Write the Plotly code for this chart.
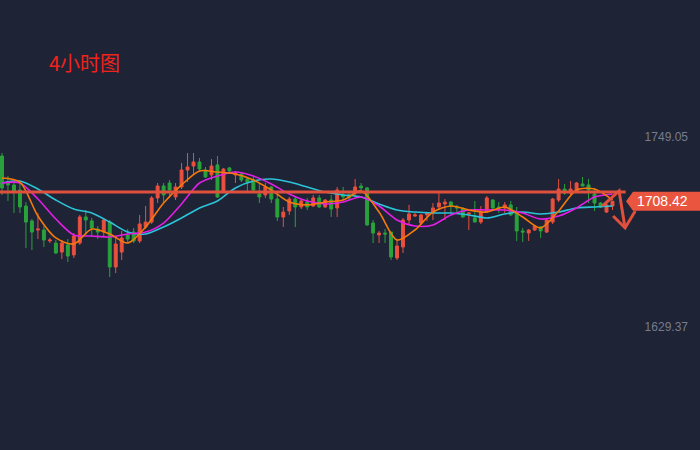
import plotly.graph_objects as go

# ---------------- data ----------------
candle_idx = list(range(103))

opens = [1736.9, 1720.5, 1718.7, 1715.5, 1705.4, 1696.0, 1690.3, 1690.3, 1683.4, 1682.1,
         1676.4, 1680.9, 1674.6, 1682.1, 1698.5, 1696.0, 1690.9, 1689.0, 1695.3, 1667.0,
         1676.4, 1687.2, 1689.0, 1683.4, 1692.2, 1695.3, 1710.5, 1718.0, 1719.9, 1711.1,
         1717.4, 1728.1, 1730.6, 1733.1, 1728.1, 1725.0, 1731.3, 1714.2, 1729.4, 1725.0,
         1725.6, 1722.4, 1721.8, 1713.0, 1712.4, 1717.4, 1709.8, 1698.5, 1702.3, 1709.8,
         1704.8, 1707.9, 1705.4, 1710.5, 1704.8, 1709.2, 1704.2, 1712.4, 1712.4, 1713.6,
         1718.0, 1716.8, 1694.7, 1687.2, 1688.4, 1689.0, 1672.7, 1679.6, 1696.6, 1699.1,
         1694.7, 1699.8, 1701.0, 1704.8, 1706.7, 1707.9, 1704.8, 1703.5, 1700.4, 1697.9,
         1695.3, 1701.6, 1709.2, 1704.8, 1704.2, 1706.1, 1701.6, 1689.7, 1688.4, 1690.3,
         1692.2, 1689.0, 1695.3, 1709.2, 1716.1, 1713.6, 1714.2, 1719.3, 1718.7, 1713.0,
         1707.3, 1701.6, 1705.4]

highs = [1738.8, 1724.3, 1720.5, 1719.9, 1707.9, 1697.2, 1701.0, 1692.8, 1685.3, 1684.0,
         1684.0, 1684.6, 1688.4, 1699.8, 1702.9, 1697.9, 1692.8, 1697.9, 1696.6, 1686.5,
         1689.7, 1690.9, 1691.6, 1699.8, 1705.4, 1711.7, 1719.9, 1719.9, 1721.8, 1719.9,
         1732.5, 1738.8, 1738.8, 1735.7, 1730.0, 1735.0, 1736.9, 1729.4, 1730.0, 1727.5,
         1726.8, 1723.7, 1723.7, 1719.9, 1719.9, 1718.0, 1712.4, 1704.8, 1711.1, 1711.7,
         1709.8, 1710.5, 1712.4, 1712.4, 1709.8, 1712.4, 1717.4, 1717.4, 1713.6, 1722.4,
         1719.9, 1717.4, 1696.6, 1689.7, 1690.9, 1689.0, 1684.6, 1697.9, 1706.1, 1701.0,
         1700.4, 1701.6, 1707.3, 1713.6, 1709.8, 1708.6, 1706.1, 1704.8, 1701.6, 1708.6,
         1705.4, 1711.7, 1709.8, 1707.9, 1707.9, 1708.6, 1704.8, 1691.6, 1690.9, 1693.5,
         1692.8, 1697.9, 1710.5, 1722.4, 1719.3, 1721.2, 1720.5, 1723.7, 1722.4, 1716.8,
         1707.9, 1706.7, 1708.6]

lows = [1712.4, 1708.6, 1701.0, 1701.0, 1679.0, 1677.7, 1684.6, 1679.6, 1682.1, 1675.2,
        1672.0, 1670.1, 1672.7, 1680.9, 1687.2, 1685.9, 1684.6, 1685.9, 1660.7, 1663.2,
        1671.4, 1682.1, 1682.1, 1682.1, 1690.9, 1694.1, 1707.3, 1707.9, 1710.5, 1709.2,
        1716.1, 1720.5, 1725.6, 1726.8, 1723.1, 1721.8, 1710.5, 1713.6, 1725.6, 1719.9,
        1720.5, 1714.2, 1714.2, 1707.3, 1710.5, 1707.3, 1696.0, 1692.2, 1699.8, 1692.2,
        1703.5, 1702.9, 1704.8, 1704.2, 1704.2, 1698.5, 1698.5, 1709.2, 1709.2, 1711.1,
        1715.5, 1692.8, 1682.1, 1682.1, 1682.1, 1671.4, 1671.4, 1675.8, 1693.5, 1698.5,
        1693.5, 1696.0, 1696.6, 1702.9, 1696.6, 1701.6, 1701.0, 1697.9, 1690.3, 1695.3,
        1694.1, 1701.0, 1703.5, 1701.0, 1701.0, 1699.1, 1683.4, 1682.7, 1683.4, 1689.7,
        1685.3, 1688.4, 1694.1, 1707.9, 1712.4, 1712.4, 1713.6, 1718.0, 1707.3, 1702.3,
        1704.2, 1701.0, 1702.9]

closes = [1716.8, 1718.7, 1714.9, 1704.8, 1695.3, 1689.0, 1690.9, 1684.0, 1684.0, 1675.8,
          1682.1, 1673.9, 1686.5, 1698.5, 1696.6, 1691.6, 1689.0, 1696.6, 1667.0, 1681.5,
          1685.3, 1684.6, 1683.4, 1694.1, 1695.3, 1710.5, 1718.0, 1712.4, 1715.5, 1717.4,
          1728.1, 1730.0, 1733.1, 1728.7, 1723.7, 1730.6, 1711.1, 1728.7, 1727.5, 1726.2,
          1721.8, 1720.5, 1715.5, 1711.1, 1717.4, 1709.8, 1698.5, 1701.6, 1709.8, 1704.8,
          1708.6, 1704.8, 1710.5, 1704.8, 1709.2, 1703.5, 1715.5, 1711.1, 1710.5, 1717.4,
          1716.8, 1693.5, 1688.4, 1688.4, 1687.8, 1673.3, 1680.2, 1696.6, 1700.4, 1699.8,
          1699.8, 1701.0, 1704.2, 1707.3, 1707.9, 1705.4, 1704.2, 1698.5, 1701.0, 1695.3,
          1701.6, 1710.5, 1704.2, 1704.2, 1706.1, 1699.8, 1689.7, 1689.0, 1690.3, 1692.8,
          1689.7, 1696.6, 1709.8, 1716.1, 1713.6, 1716.1, 1719.9, 1718.0, 1715.5, 1707.3,
          1704.8, 1706.1, 1708.42]

# moving-average lines, read every third candle
ma_idx = list(range(0, 103, 3))
ma5 = [1723.1, 1720.5, 1699.1, 1685.3, 1681.5, 1690.9, 1687.8, 1682.1, 1692.2, 1707.3,
       1718.7, 1727.5, 1726.8, 1725.6, 1721.8, 1715.5, 1707.9, 1706.1, 1707.9, 1709.2,
       1714.9, 1701.6, 1684.0, 1690.3, 1701.6, 1705.4, 1702.9, 1701.6, 1704.8, 1698.5,
       1691.6, 1702.3, 1715.5, 1716.1, 1709.2]
ma10 = [1719.9, 1719.9, 1709.8, 1697.2, 1687.2, 1686.5, 1685.9, 1687.8, 1689.0, 1694.7,
        1706.7, 1719.9, 1724.3, 1726.8, 1724.3, 1719.3, 1713.0, 1708.6, 1706.7, 1707.9,
        1711.1, 1705.4, 1696.6, 1692.8, 1693.5, 1699.8, 1702.9, 1702.9, 1702.9, 1701.0,
        1697.2, 1699.1, 1704.2, 1711.1, 1713.0]
ma20 = [1719.9, 1721.2, 1716.1, 1709.2, 1703.5, 1701.0, 1695.3, 1689.0, 1687.8, 1692.2,
        1697.9, 1704.2, 1708.6, 1716.8, 1721.2, 1722.4, 1720.5, 1717.4, 1714.2, 1712.4,
        1711.1, 1706.7, 1702.9, 1701.6, 1701.0, 1701.0, 1699.8, 1697.9, 1700.4, 1701.6,
        1700.4, 1701.6, 1704.2, 1704.8, 1705.4]

# axis labels and the drawn marks
tick_vals = [1749.05, 1629.37]
tick_text = ["1749.05", "1629.37"]
last_price = 1708.42
last_price_text = "1708.42"
level_price = 1714.2
title_text = "4小时图"
arrow_shaft_x = [100.3, 103.1, 104.1]
arrow_shaft_y = [1705.4, 1714.9, 1691.6]
arrow_head_x = [102.1, 104.1, 105.8]
arrow_head_y = [1699.1, 1691.6, 1702.3]

# ---------------- styling ----------------
BG = "#1e2336"
UP = "#e9503e"
DOWN = "#2aa23b"
DRAW = "#e0503c"

fig = go.Figure()
fig.add_trace(go.Candlestick(
    x=candle_idx, open=opens, high=highs, low=lows, close=closes,
    increasing=dict(line=dict(color=UP, width=1), fillcolor=UP),
    decreasing=dict(line=dict(color=DOWN, width=1), fillcolor=DOWN),
    whiskerwidth=0, showlegend=False, hoverinfo="skip"))

for vals, col in [(ma20, "#2bc4d8"), (ma10, "#e41ee4"), (ma5, "#f57a0a")]:
    fig.add_trace(go.Scatter(x=ma_idx, y=vals, mode="lines",
                             line=dict(color=col, width=1.6, shape="spline", smoothing=0.8),
                             showlegend=False, hoverinfo="skip"))

def path_of(xs, ys):
    return "M " + " L ".join(f"{a},{b}" for a, b in zip(xs, ys))

shapes = [
    dict(type="line", xref="x", yref="y", x0=-0.5, x1=104.2, y0=level_price, y1=level_price,
         line=dict(color=DRAW, width=3), layer="above"),
    dict(type="path", xref="x", yref="y", path=path_of(arrow_shaft_x, arrow_shaft_y),
         line=dict(color=DRAW, width=3), layer="above"),
    dict(type="path", xref="x", yref="y", path=path_of(arrow_head_x, arrow_head_y),
         line=dict(color=DRAW, width=3), layer="above"),
    dict(type="path", xref="paper", yref="y",
         path=(f"M 0.8943,{last_price} L 0.9043,{last_price + 6.0} L 1.0,{last_price + 6.0} "
               f"L 1.0,{last_price - 6.0} L 0.9043,{last_price - 6.0} Z"),
         fillcolor="#e9553f", line=dict(width=0), layer="above"),
]

annotations = [
    dict(xref="paper", yref="y", x=0.947, y=last_price, text=last_price_text, showarrow=False,
         font=dict(family="Liberation Sans, Arial", size=14, color="#ffffff"),
         xanchor="center", yanchor="middle"),
    dict(xref="paper", yref="paper", x=47 / 700, y=1 - 62 / 450, text=title_text, showarrow=False,
         font=dict(family="Noto Sans CJK SC", size=20, color="#f0231b"),
         xanchor="left", yanchor="middle"),
]

fig.update_layout(
    width=700, height=450,
    margin=dict(l=0, r=0, t=0, b=0),
    paper_bgcolor=BG, plot_bgcolor=BG,
    shapes=shapes, annotations=annotations,
    xaxis=dict(range=[-0.334, 116.62], visible=False, rangeslider=dict(visible=False),
               fixedrange=True),
    yaxis=dict(range=[1551.7, 1835.2], side="right", tickvals=tick_vals, ticktext=tick_text,
               ticklabelposition="inside", ticks="", ticklabelstandoff=9,
               showgrid=False, zeroline=False, showline=False, fixedrange=True,
               tickfont=dict(family="Liberation Sans, Arial", size=12, color="#767c8e")),
    showlegend=False,
)

fig.write_html("out.html",
               config={"displayModeBar": False, "staticPlot": True},
               post_script="document.body.style.margin='0';document.body.style.padding='0';"
                           "document.body.style.background='" + BG + "';")
